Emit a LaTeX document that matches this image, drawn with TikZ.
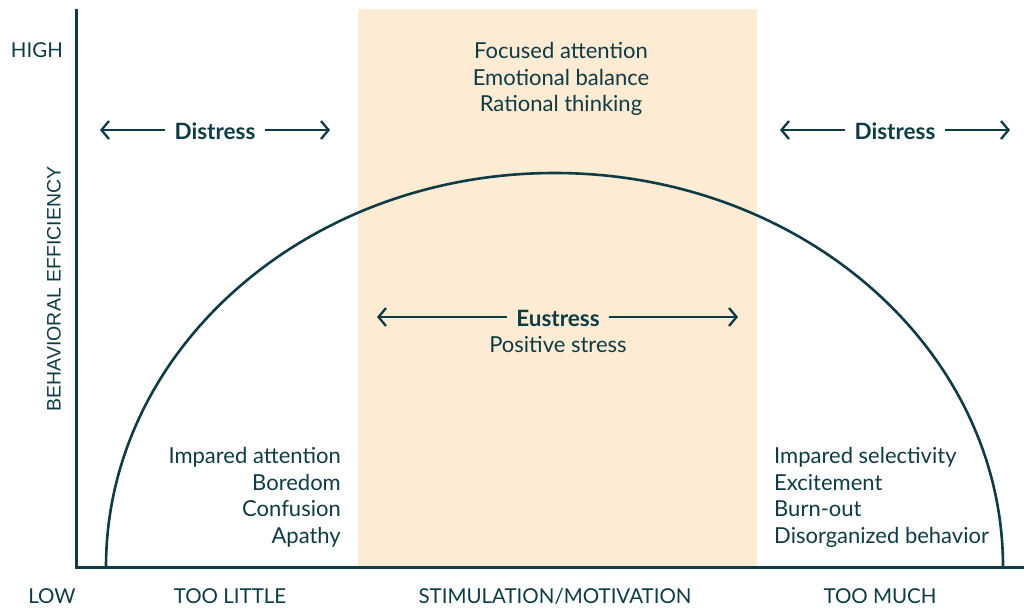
\documentclass[tikz,border=0pt]{standalone}
\usepackage{fontspec}
\setmainfont{Lato}
\newfontfamily\axisfont{Liberation Sans}
\usetikzlibrary{arrows.meta}
\definecolor{ink}{HTML}{0E3B44}
\definecolor{peach}{HTML}{FEEBD4}
\tikzset{
  lbl/.style={text=ink, font=\fontsize{22}{26.5}\selectfont, inner sep=0pt, align=center},
  bold/.style={lbl, font=\fontsize{22.5}{26.5}\selectfont\bfseries},
  axlbl/.style={text=ink, font=\fontsize{20.5}{22}\selectfont, inner sep=0pt, anchor=base},
  dblarrow/.style={draw=ink, line width=2.3pt, -{Straight Barb[length=7.5pt,width=18pt]}},
  axisline/.style={draw=ink, line width=3pt},
}
\begin{document}
\begin{tikzpicture}[x=1pt,y=-1pt]
\useasboundingbox (0,0) rectangle (1024,607);
\fill[peach] (358,9) rectangle (757,567);
% axes
\draw[axisline] (76,9) -- (76,567) -- (1024,567);
% curve
\draw[draw=ink, line width=2.6pt] (106,567) arc[start angle=180, end angle=360, x radius=448.5, y radius=394];
% axis labels
\node[axlbl] (high) at (37,57.5) {HIGH};
\node[axlbl] (low) at (52,603) {LOW};
\node[axlbl] (little) at (230,603) {TOO LITTLE};
\node[axlbl] (stim) at (555,603) {STIMULATION/MOTIVATION};
\node[axlbl] (much) at (880,603) {TOO MUCH};
\node[text=ink, font=\axisfont\fontsize{19.5}{22}\selectfont, inner sep=0pt, rotate=90] (yl) at (54,289) {BEHAVIORAL EFFICIENCY};
% distress left
\node[bold] (dl) at (215,131) {Distress};
\coordinate (dla) at (100,130);
\coordinate (dlb) at (330,130);
\draw[dblarrow] ([xshift=-9pt,yshift=1pt]dl.west) -- (dla);
\draw[dblarrow] ([xshift=9pt,yshift=1pt]dl.east) -- (dlb);
% distress right
\node[bold] (dr) at (895,131) {Distress};
\coordinate (dra) at (780,130);
\coordinate (drb) at (1010,130);
\draw[dblarrow] ([xshift=-9pt,yshift=1pt]dr.west) -- (dra);
\draw[dblarrow] ([xshift=9pt,yshift=1pt]dr.east) -- (drb);
% top text
\node[lbl] (top) at (561,79) {Focused attention\\Emotional balance\\Rational thinking};
% eustress
\node[bold] (eu) at (558,318) {Eustress};
\node[lbl] (pos) at (558,345) {Positive stress};
\coordinate (eua) at (377,317);
\coordinate (eub) at (738,317);
\draw[dblarrow] ([xshift=-9pt,yshift=1pt]eu.west) -- (eua);
\draw[dblarrow] ([xshift=9pt,yshift=1pt]eu.east) -- (eub);
% lists
\node[lbl, align=right, anchor=east] (left) at (341,497.5) {Impared attention\\Boredom\\Confusion\\Apathy};
\node[lbl, align=left, anchor=west] (right) at (774,497.5) {Impared selectivity\\Excitement\\Burn-out\\Disorganized behavior};
\end{tikzpicture}
\end{document}
